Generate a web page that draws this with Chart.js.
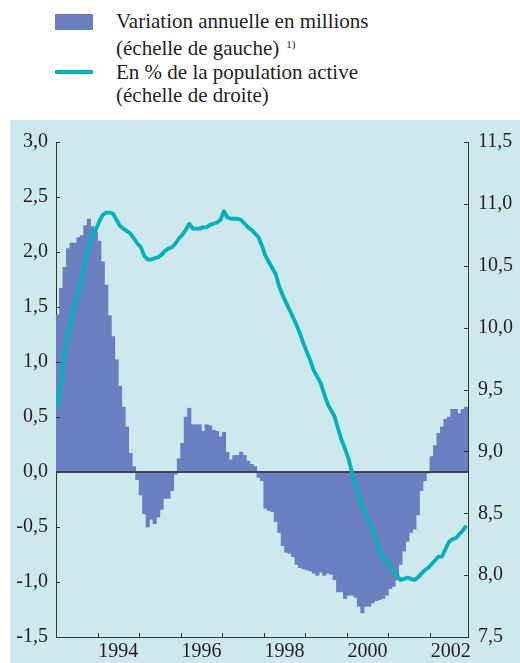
<!DOCTYPE html>
<html lang="fr">
<head>
<meta charset="utf-8">
<script src="https://cdn.jsdelivr.net/npm/chart.js@4.4.0/dist/chart.umd.min.js"></script>
<style>
  body { margin: 0; width: 520px; height: 663px; background: #fff; position: relative; overflow: hidden;
         font-family: "Liberation Serif", "Times New Roman", serif; color: #231f20; }
  .sw { position: absolute; left: 55px; width: 38px; }
  .txt { position: absolute; left: 116px; font-size: 21px; line-height: 23px; white-space: nowrap; }
  .txt sup { font-size: 11px; vertical-align: 7px; margin-left: 7px; }
  #panel { position: absolute; left: 10px; top: 120px; width: 510px; height: 543px; background: #cde9ee; }
</style>
</head>
<body>
<div class="sw" style="top:14px;height:16px;background:#6a7fbf"></div>
<div class="txt" style="top:10px">Variation annuelle en millions</div>
<div class="txt" style="top:33px">(échelle de gauche)<sup>1)</sup></div>
<div class="sw" style="top:70px;height:4px;background:#00b2ba"></div>
<div class="txt" style="top:61px">En % de la population active</div>
<div class="txt" style="top:84px">(échelle de droite)</div>
<div id="panel"><canvas id="chomage"></canvas></div>
<script>
// mois de janvier 1993 à novembre 2002
const annees = [1993, 1994, 1995, 1996, 1997, 1998, 1999, 2000, 2001, 2002];
const mois = [];
annees.forEach(a => { for (let m = 1; m <= 12; m++) mois.push(a + "-" + String(m).padStart(2, "0")); });
mois.length = 119;

// variation annuelle du nombre de chômeurs, en millions (échelle de gauche)
const variation = [
  1.43, 1.67, 1.86, 2.03, 2.08, 2.08, 2.13, 2.15, 2.24, 2.30, 2.23, 2.18,
  2.10, 1.91, 1.70, 1.42, 1.23, 1.02, 0.78, 0.59, 0.41, 0.17, 0.05, -0.07,
  -0.21, -0.38, -0.50, -0.43, -0.47, -0.41, -0.34, -0.24, -0.24, -0.17, -0.02, 0.12,
  0.26, 0.50, 0.58, 0.43, 0.43, 0.43, 0.37, 0.43, 0.42, 0.38, 0.37, 0.32,
  0.36, 0.18, 0.11, 0.15, 0.15, 0.18, 0.15, 0.10, 0.07, 0.05, -0.05, -0.08,
  -0.33, -0.35, -0.36, -0.45, -0.55, -0.67, -0.73, -0.74, -0.77, -0.84, -0.87, -0.88,
  -0.89, -0.90, -0.92, -0.94, -0.91, -0.94, -0.92, -0.93, -0.98, -1.09, -1.09, -1.15,
  -1.12, -1.12, -1.14, -1.22, -1.28, -1.22, -1.22, -1.19, -1.17, -1.16, -1.15, -1.12,
  -1.06, -1.04, -0.98, -0.84, -0.72, -0.63, -0.55, -0.52, -0.39, -0.17, -0.08, -0.01,
  0.14, 0.24, 0.35, 0.41, 0.48, 0.50, 0.57, 0.57, 0.53, 0.57, 0.59
];

// taux de chômage en % de la population active (échelle de droite)
const tauxChomage = [
  9.36, 9.57, 9.80, 9.96, 10.07, 10.19, 10.30, 10.41, 10.55, 10.67, 10.74, 10.79,
  10.86, 10.91, 10.93, 10.93, 10.92, 10.87, 10.82, 10.80, 10.78, 10.76, 10.72, 10.68,
  10.65, 10.58, 10.55, 10.55, 10.56, 10.57, 10.59, 10.62, 10.64, 10.65, 10.68, 10.72,
  10.75, 10.79, 10.84, 10.80, 10.80, 10.80, 10.81, 10.81, 10.83, 10.84, 10.85, 10.87,
  10.94, 10.89, 10.88, 10.88, 10.88, 10.87, 10.84, 10.81, 10.79, 10.76, 10.73, 10.66,
  10.58, 10.53, 10.48, 10.43, 10.33, 10.26, 10.20, 10.14, 10.08, 10.02, 9.95, 9.87,
  9.80, 9.73, 9.65, 9.60, 9.55, 9.46, 9.38, 9.33, 9.28, 9.18, 9.09, 9.02,
  8.94, 8.83, 8.73, 8.64, 8.55, 8.48, 8.42, 8.37, 8.28, 8.18, 8.14, 8.11,
  8.07, 8.03, 8.00, 7.96, 7.97, 7.98, 7.97, 7.96, 7.98, 8.01, 8.04, 8.06,
  8.09, 8.12, 8.15, 8.15, 8.21, 8.27, 8.29, 8.30, 8.33, 8.36, 8.40
];

// étiquettes de l'axe des années (centrées sur l'année)
const etiquettesAnnees = ["1994", "1996", "1998", "2000", "2002"];

const posEtiquettes = etiquettesAnnees.map(a => mois.indexOf(a + "-07"));
const debutsAnnees = annees.slice(1).map(a => mois.indexOf(a + "-01"));
const virgule = v => v.toFixed(1).replace(".", ",");
const police = { family: "Liberation Serif", size: 20 };

// ligne du zéro et petites graduations intérieures
const habillage = {
  id: "habillage",
  afterDatasetDraw(chart, args) {
    if (args.meta.type !== "bar") return;
    const { ctx, chartArea } = chart;
    const y0 = chart.scales.y.getPixelForValue(0);
    ctx.save();
    ctx.strokeStyle = "#3d4455";
    ctx.lineWidth = 2;
    ctx.beginPath();
    ctx.moveTo(chartArea.left, y0);
    ctx.lineTo(chartArea.right, y0);
    ctx.stroke();
    ctx.restore();
  },
  afterDraw(chart) {
    const { ctx } = chart;
    const x = chart.scales.x, y = chart.scales.y, y2 = chart.scales.y2;
    ctx.save();
    ctx.strokeStyle = "#333";
    ctx.lineWidth = 1;
    ctx.beginPath();
    y.ticks.forEach(t => {
      const p = Math.round(y.getPixelForValue(t.value)) + 0.5;
      ctx.moveTo(x.left, p); ctx.lineTo(x.left + 4, p);
    });
    y2.ticks.forEach(t => {
      const p = Math.round(y2.getPixelForValue(t.value)) + 0.5;
      ctx.moveTo(x.right, p); ctx.lineTo(x.right - 4, p);
    });
    debutsAnnees.forEach(v => {
      const p = Math.round(x.getPixelForValue(v)) + 0.5;
      ctx.moveTo(p, y.bottom); ctx.lineTo(p, y.bottom - 4);
    });
    ctx.stroke();
    ctx.restore();
  }
};

new Chart(document.getElementById("chomage"), {
  type: "bar",
  data: {
    datasets: [
      {
        type: "bar",
        label: "Variation annuelle en millions",
        data: variation.map((v, i) => ({ x: i + 0.5, y: v })),
        backgroundColor: "#6a7fbf",
        borderWidth: 0,
        barPercentage: 1,
        categoryPercentage: 1,
        yAxisID: "y",
        order: 2
      },
      {
        type: "line",
        label: "En % de la population active",
        data: tauxChomage.map((v, i) => ({ x: i + 0.5, y: v })),
        borderColor: "#00b2ba",
        borderWidth: 3.8,
        borderJoinStyle: "round",
        pointRadius: 0,
        tension: 0,
        yAxisID: "y2",
        order: 1
      }
    ]
  },
  options: {
    responsive: true,
    maintainAspectRatio: false,
    animation: false,
    layout: { padding: { top: 20 } },
    plugins: { legend: { display: false }, tooltip: { enabled: false } },
    scales: {
      x: {
        type: "linear",
        min: 0,
        max: mois.length,
        offset: false,
        grid: { display: false, drawTicks: false },
        border: { display: true, color: "#333", width: 1 },
        afterBuildTicks: s => { s.ticks = posEtiquettes.map(v => ({ value: v })); },
        afterFit: s => { s.height = 26; },
        ticks: {
          autoSkip: false, maxRotation: 0, padding: 3, color: "#231f20", font: police,
          callback: v => etiquettesAnnees[posEtiquettes.indexOf(v)]
        }
      },
      y: {
        position: "left",
        min: -1.5,
        max: 3,
        grid: { display: false, drawTicks: false },
        border: { display: true, color: "#333", width: 1 },
        afterFit: s => { s.width = 46; },
        ticks: { stepSize: 0.5, padding: 8, color: "#231f20", font: police, callback: virgule }
      },
      y2: {
        position: "right",
        min: 7.5,
        max: 11.5,
        grid: { display: false, drawTicks: false },
        border: { display: true, color: "#333", width: 1 },
        afterFit: s => { s.width = 52; },
        ticks: { stepSize: 0.5, padding: 10, color: "#231f20", font: police, callback: virgule }
      }
    }
  },
  plugins: [habillage]
});
</script>
</body>
</html>
